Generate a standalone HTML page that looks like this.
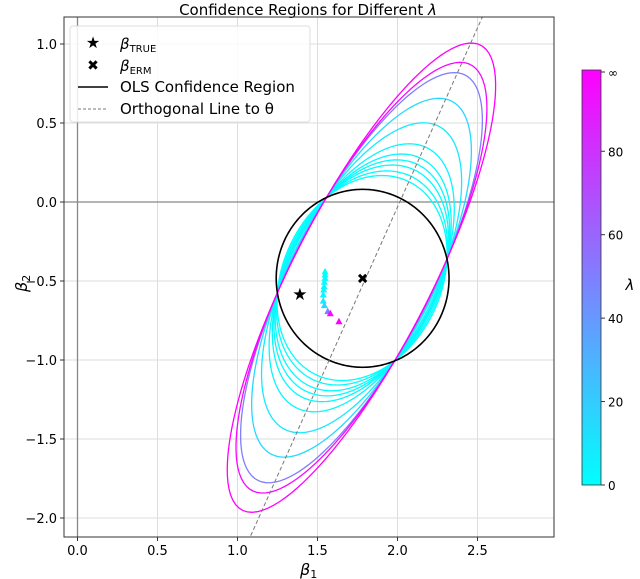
<!DOCTYPE html>
<html><head><meta charset="utf-8"><style>
body{margin:0;background:#fff}
svg{display:block;font-family:"DejaVu Sans","Liberation Sans",sans-serif}
</style></head><body>
<svg id="chart" width="640" height="579" viewBox="0 0 640 579">
<text x="308" y="15" text-anchor="middle" font-size="15" fill="#000">Confidence Regions for Different <tspan font-style="italic">λ</tspan></text>
<defs>
<clipPath id="plotclip"><rect x="64" y="17" width="490" height="520"/></clipPath>
<linearGradient id="cool" x1="0" y1="1" x2="0" y2="0"><stop offset="0" stop-color="#00ffff"/><stop offset="1" stop-color="#ff00ff"/></linearGradient>
</defs>
<g id="grid"></g>
<g id="marks" clip-path="url(#plotclip)"></g>
<rect x="64" y="17" width="490" height="520" fill="none" stroke="#333" stroke-width="1"/>
<g id="ticks"></g>
<text x="300" y="575" font-size="16" font-style="italic">β<tspan font-size="11" dy="3" font-style="normal">1</tspan></text>
<text x="0" y="0" font-size="16" font-style="italic" transform="translate(27,292) rotate(-90)">β<tspan font-size="11" dy="3" font-style="normal">2</tspan></text>
<g>
<rect x="70" y="26" width="240" height="96" rx="3" fill="#fff" fill-opacity="0.85" stroke="#ddd"/>
<text x="93" y="48" text-anchor="middle" font-size="16">★</text>
<text x="120" y="49" font-size="15" font-style="italic">β<tspan font-size="10" dy="3" font-style="normal">TRUE</tspan></text>
<text x="93" y="70" text-anchor="middle" font-size="14" font-weight="bold">✖</text>
<text x="120" y="71" font-size="15" font-style="italic">β<tspan font-size="10" dy="3" font-style="normal">ERM</tspan></text>
<line x1="78" y1="87" x2="108" y2="87" stroke="#000" stroke-width="1.5"/>
<text x="120" y="92" font-size="15">OLS Confidence Region</text>
<line x1="78" y1="109" x2="108" y2="109" stroke="#777" stroke-width="1" stroke-dasharray="3,2"/>
<text x="120" y="114" font-size="15">Orthogonal Line to θ</text>
</g>
<rect x="582" y="70" width="19" height="415" fill="url(#cool)" stroke="#333" stroke-width="0.8"/>
<g id="cbticks"></g>
<text x="630" y="290" font-size="15" font-style="italic" text-anchor="middle">λ</text>
</svg>
<script>
const xTicks=[0,0.5,1,1.5,2,2.5];
const yTicks=[1,0.5,0,-0.5,-1,-1.5,-2];
const cbTickValues=[0,20,40,60,80,99];
const cbTickLabels=["0","20","40","60","80","∞"];
const olsCenter=[1.782,-0.483];
const olsRadii=[0.54,0.563];
const chordA=[1.566,0.006];
const chordD=[1.972,-0.981];
const curveStretch=[2.6,3.5,4.7,5.8,7.1,9.5,15,22.4,31.3,35.2,43];
const curveLambda=[0.5,1,1.5,2,3,4,8,15,50,96,99];
const centerX=[1.547,1.547,1.547,1.543,1.541,1.539,1.536,1.536,1.543,1.564,1.580,1.634];
const centerY=[-0.442,-0.462,-0.483,-0.508,-0.536,-0.557,-0.589,-0.627,-0.656,-0.694,-0.707,-0.758];
const centerLambda=[0,0.5,1,1.5,2,3,4,8,15,50,96,99];
const betaTrue=[1.39,-0.582];
const orthLine=[[1.0,-2.3],[2.53,1.17]];
const lambdaMax=99;

const NS="http://www.w3.org/2000/svg";
const X=v=>77.5+160*v, Y=v=>202-158*v;
const CB=v=>485-(v/lambdaMax)*413;
function mk(tag,attrs,parent){const e=document.createElementNS(NS,tag);for(const k in attrs)e.setAttribute(k,attrs[k]);parent.appendChild(e);return e;}
function cool(l){const f=Math.max(0,Math.min(1,l/lambdaMax));return `rgb(${Math.round(255*f)},${Math.round(255*(1-f))},255)`;}
const grid=document.getElementById('grid'),ticks=document.getElementById('ticks'),marks=document.getElementById('marks'),cbt=document.getElementById('cbticks');

xTicks.forEach(v=>{
 const g=mk('line',{x1:X(v),x2:X(v),y1:17,y2:537,stroke:'#ddd','stroke-width':1},grid);
 
 const t=mk('line',{x1:X(v),x2:X(v),y1:537,y2:541,stroke:'#333'},ticks);
 
 const l=mk('text',{x:X(v),y:555,'text-anchor':'middle','font-size':13},ticks);l.textContent=v.toFixed(1);
 
});
yTicks.forEach(v=>{
 const g=mk('line',{x1:64,x2:554,y1:Y(v),y2:Y(v),stroke:'#ddd','stroke-width':1},grid);
 
 const t=mk('line',{x1:60,x2:64,y1:Y(v),y2:Y(v),stroke:'#333'},ticks);
 
 const l=mk('text',{x:57,y:Y(v)+5,'text-anchor':'end','font-size':13},ticks);l.textContent=(v<0?'−':'')+Math.abs(v).toFixed(1);
 
});
const ax0=mk('line',{x1:X(0),x2:X(0),y1:17,y2:537,stroke:'#888','stroke-width':1.3},grid);

const ay0=mk('line',{x1:64,x2:554,y1:Y(0),y2:Y(0),stroke:'#888','stroke-width':1.3},grid);


function onCircle(p){
 const dx=(p[0]-olsCenter[0])/olsRadii[0],dy=(p[1]-olsCenter[1])/olsRadii[1],s=Math.hypot(dx,dy);
 return [olsCenter[0]+(p[0]-olsCenter[0])/s,olsCenter[1]+(p[1]-olsCenter[1])/s];
}
const pA=onCircle(chordA),pD=onCircle(chordD);
const n0=[0.639,-0.325],nl=Math.hypot(n0[0],n0[1]),n=[n0[0]/nl,n0[1]/nl];
const a1=n[0]*(olsCenter[0]-pA[0])+n[1]*(olsCenter[1]-pA[1]);
const a2=n[0]*(olsCenter[0]-pD[0])+n[1]*(olsCenter[1]-pD[1]);
function conicPath(t){
 let d='';
 for(let i=0;i<=360;i++){
  const th=i*Math.PI/180,vx=Math.cos(th),vy=Math.sin(th);
  const q=vx*vx/(olsRadii[0]**2)+vy*vy/(olsRadii[1]**2),k=n[0]*vx+n[1]*vy;
  const A=q+t*k*k,B=t*k*(a1+a2),C=t*a1*a2-1;
  const r=(-B+Math.sqrt(B*B-4*A*C))/(2*A);
  d+=(i?'L':'M')+X(olsCenter[0]+r*vx).toFixed(2)+','+Y(olsCenter[1]+r*vy).toFixed(2);
 }
 return d+'Z';
}
curveStretch.forEach((t,i)=>{
 const p=mk('path',{d:conicPath(t),fill:'none',stroke:cool(curveLambda[i]),'stroke-width':1.3},marks);
 
});
const ols=mk('path',{d:conicPath(0),fill:'none',stroke:'#000','stroke-width':1.6},marks);

const dl=mk('line',{x1:X(orthLine[0][0]),y1:Y(orthLine[0][1]),x2:X(orthLine[1][0]),y2:Y(orthLine[1][1]),stroke:'#777','stroke-width':1,'stroke-dasharray':'4,2.5'},marks);

centerX.forEach((cx,i)=>{
 const x=X(cx),y=Y(centerY[i]);
 const tri=mk('polygon',{points:`${x},${y-4} ${x-3.5},${y+2.5} ${x+3.5},${y+2.5}`,fill:cool(centerLambda[i])},marks);
 
});
const st=mk('text',{x:X(betaTrue[0]),y:Y(betaTrue[1])+6,'text-anchor':'middle','font-size':17},marks);st.textContent='★';

const er=mk('text',{x:X(olsCenter[0]),y:Y(olsCenter[1])+5,'text-anchor':'middle','font-size':14,'font-weight':'bold'},marks);er.textContent='✖';


cbTickValues.forEach((v,i)=>{
 const t=mk('line',{x1:601,x2:605,y1:CB(v),y2:CB(v),stroke:'#333'},cbt);
 
 const l=mk('text',{x:608,y:CB(v)+5,'font-size':12},cbt);l.textContent=cbTickLabels[i];
 
});
</script>
</body></html>
